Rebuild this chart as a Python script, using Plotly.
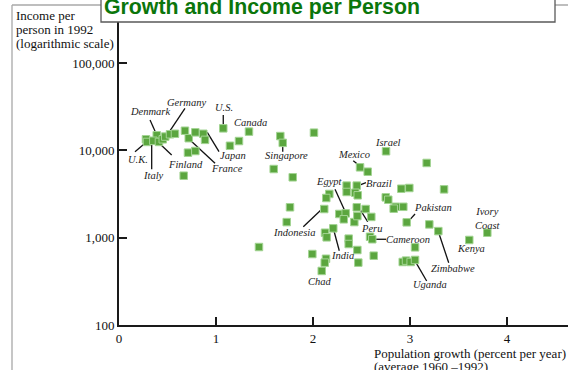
import plotly.graph_objects as go

# ---- data: population growth (% per year, 1960-1992) vs income per person 1992 ----
growth = [0.278, 0.289, 0.389, 0.354, 0.412, 0.451, 0.477, 0.526, 0.577, 0.680,
          0.719, 0.787, 0.869, 0.887, 1.075, 1.340, 1.144, 1.237, 0.711, 0.787,
          0.667, 1.663, 1.688, 1.595, 1.791, 2.010, 2.753, 3.172, 2.485, 2.564,
          2.347, 2.451, 2.347, 2.436, 2.461, 2.168, 2.137, 2.750, 2.776, 2.910,
          2.993, 3.351, 2.853, 2.832, 2.931, 1.763, 2.116, 1.729, 2.271, 2.337,
          2.317, 2.426, 2.451, 2.457, 2.543, 2.601, 2.966, 3.199, 3.292, 2.124,
          2.209, 2.141, 2.368, 2.368, 2.457, 2.588, 2.611, 1.993, 2.134, 2.121,
          2.090, 2.467, 2.626, 3.052, 2.925, 2.959, 3.007, 3.052, 3.611, 3.797,
          1.443]
income = [13400, 12500, 14900, 12900, 12500, 13400, 14400, 15300, 15500, 16800,
          13800, 16100, 15500, 13200, 17900, 16400, 11300, 12800, 9420, 9840,
          5130, 14600, 12200, 6120, 4920, 15960, 9770, 7180, 6400, 5700,
          3950, 3950, 3340, 3270, 3060, 3170, 2850, 2900, 2720, 3640,
          3710, 3580, 2260, 2150, 2260, 2230, 2130, 1510, 1870, 1900,
          1625, 1510, 2230, 1770, 2130, 1730, 1500, 1420, 1190, 1140,
          1280, 1010, 975, 847, 723, 1025, 960, 650, 574, 518,
          416, 518, 622, 776, 527, 546, 527, 556, 942, 1140,
          782]

x_ticks = [0, 1, 2, 3, 4]
y_ticks = [100, 1000, 10000, 100000]
y_ticktext = ["100", "1,000", "10,000", "100,000"]

# ---- country labels: (text, x, log10 y) ----
labels = [
    ("Denmark", 0.320, 4.443), ("Germany", 0.691, 4.551), ("U.S.", 1.082, 4.486),
    ("Canada", 1.358, 4.314), ("U.K.", 0.193, 3.898), ("Italy", 0.354, 3.718),
    ("Finland", 0.684, 3.844), ("Japan", 1.178, 3.944), ("France", 1.110, 3.790),
    ("Singapore", 1.724, 3.942), ("Israel", 2.770, 4.088), ("Mexico", 2.426, 3.951),
    ("Egypt", 2.175, 3.649), ("Brazil", 2.684, 3.623), ("Indonesia", 1.807, 3.057),
    ("Pakistan", 3.234, 3.344), ("Peru", 2.598, 3.100), ("Cameroon", 2.982, 2.977),
    ("India", 2.306, 2.798), ("Chad", 2.072, 2.501), ("Uganda", 3.206, 2.462),
    ("Zimbabwe", 3.446, 2.645), ("Kenya", 3.632, 2.871), ("Ivory<br>Coast", 3.804, 3.222),
]
# ---- leader lines: (x0, log10 y0, x1, log10 y1) ----
leaders = [
    (0.320, 4.348, 0.381, 4.196), (0.680, 4.482, 0.508, 4.196), (1.075, 4.405, 1.075, 4.291),
    (0.165, 3.985, 0.268, 4.081), (0.337, 4.108, 0.337, 3.784), (0.415, 4.081, 0.543, 3.947),
    (0.910, 4.207, 1.031, 3.985), (0.732, 4.119, 0.990, 3.852), (1.688, 4.062, 1.688, 3.985),
    (2.415, 3.882, 2.474, 3.829), (2.227, 3.554, 2.337, 3.286), (2.546, 3.630, 2.467, 3.596),
    (2.090, 3.325, 1.900, 3.126), (3.052, 3.271, 2.990, 3.195), (2.485, 3.325, 2.564, 3.183),
    (2.639, 2.982, 2.753, 2.982), (2.209, 3.108, 2.271, 2.851), (3.062, 2.714, 3.172, 2.504),
    (3.296, 3.057, 3.399, 2.714),
]

SERIF = "Liberation Serif, Times New Roman, serif"

lx, ly = [], []
for x0, y0, x1, y1 in leaders:
    lx += [x0, x1, None]
    ly += [10 ** y0, 10 ** y1, None]

fig = go.Figure()
fig.add_trace(go.Scatter(x=lx, y=ly, mode="lines", line=dict(color="#111", width=1.3),
                         hoverinfo="skip", cliponaxis=False))
fig.add_trace(go.Scatter(x=growth, y=income, mode="markers",
                         marker=dict(symbol="square", size=7.5, color="#5ba63f",
                                     line=dict(color="#a3d493", width=1)),
                         hoverinfo="skip", cliponaxis=False))

annotations = []
for text, x, y in labels:
    annotations.append(dict(text=f"<i>{text}</i>", x=x, y=y, xref="x", yref="y",
                            showarrow=False, xanchor="center", yanchor="middle",
                            font=dict(family=SERIF, size=10.5, color="#222")))

def px_y(py):
    return (325 - py) / 303.0

def px_x(px):
    return (px - 119) / 449.0

# y-axis title (three lines)
for i, t in enumerate(["Income per", "person in 1992", "(logarithmic scale)"]):
    annotations.append(dict(text=t, x=px_x(13.5), y=px_y(15 + 14.2 * i), xref="paper", yref="paper",
                            showarrow=False, xanchor="left", yanchor="middle",
                            font=dict(family=SERIF, size=13, color="#111")))
# x-axis title (two lines)
for i, t in enumerate(["Population growth (percent per year)", "(average 1960 \u20131992)"]):
    annotations.append(dict(text=t, x=px_x(371.5), y=px_y(353.3 + 12.7 * i), xref="paper", yref="paper",
                            showarrow=False, xanchor="left", yanchor="middle",
                            font=dict(family=SERIF, size=13, color="#111")))
# chart title
annotations.append(dict(text="<b>Growth and Income per Person</b>", x=px_x(101.5), y=px_y(7.2),
                        xref="paper", yref="paper", showarrow=False, xanchor="left", yanchor="middle",
                        font=dict(family="Liberation Sans, Arial, sans-serif", size=21.3, color="#0b760b")))

shapes = [
    # outer frame (gray)
    dict(type="line", xref="paper", yref="paper", x0=px_x(12), x1=px_x(12), y0=px_y(5), y1=px_y(380),
         line=dict(color="#a8a8a8", width=1.3)),
    dict(type="line", xref="paper", yref="paper", x0=px_x(12), x1=px_x(580), y0=px_y(5), y1=px_y(5),
         line=dict(color="#a8a8a8", width=1.3)),
    # title box
    dict(type="rect", xref="paper", yref="paper", x0=px_x(101), x1=px_x(555), y0=px_y(22), y1=px_y(-10),
         fillcolor="white", line=dict(color="#5a5a5a", width=1.3)),
]

axis_common = dict(showline=True, linecolor="#1a1a1a", linewidth=2, ticks="inside", ticklen=8,
                   tickwidth=2, tickcolor="#1a1a1a", showgrid=False, zeroline=False,
                   tickfont=dict(family=SERIF, size=13, color="#111"))

fig.update_layout(
    width=568, height=370, margin=dict(l=119, r=0, t=22, b=45, pad=0),
    paper_bgcolor="white", plot_bgcolor="white", showlegend=False,
    xaxis=dict(range=[0, 449 / 97.0], tickvals=x_ticks, **axis_common),
    yaxis=dict(type="log", range=[2, 2 + 303 / 87.3], tickvals=y_ticks, ticktext=y_ticktext,
               **axis_common),
    annotations=annotations, shapes=shapes,
)

fig.write_html("out.html")
